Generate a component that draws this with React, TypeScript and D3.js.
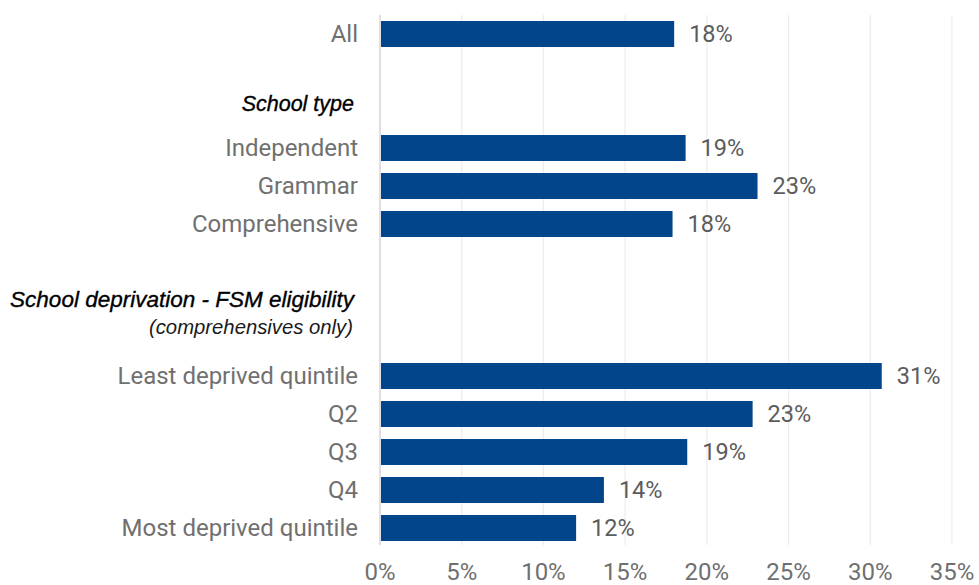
import React from "react";
import * as d3 from "d3";

const rowLabels = [
  "All",
  "",
  "School type",
  "Independent",
  "Grammar",
  "Comprehensive",
  "",
  "School deprivation - FSM eligibility",
  "",
  "Least deprived quintile",
  "Q2",
  "Q3",
  "Q4",
  "Most deprived quintile",
];
const rowKinds = ["bar", "gap", "header", "bar", "bar", "bar", "gap", "header", "gap", "bar", "bar", "bar", "bar", "bar"];
const rowValues: (number | null)[] = [18.0, null, null, 18.7, 23.1, 17.9, null, null, null, 30.7, 22.8, 18.8, 13.7, 12.0];
const headerNotes = ["", "", "", "", "", "", "", "(comprehensives only)", "", "", "", "", "", ""];
const xTicks = [0, 5, 10, 15, 20, 25, 30, 35];

const W = 979;
const H = 585;
const left = 380;
const right = 952;
const top = 15;
const bottom = 547;

export default function App() {
  const x = d3.scaleLinear().domain([0, 35]).range([left, right]);
  const y = d3
    .scaleBand<number>()
    .domain(d3.range(rowLabels.length))
    .range([top, bottom])
    .paddingInner(0.316)
    .paddingOuter(0.158);
  const bw = y.bandwidth();
  const step = y.step();

  return (
    <svg width={W} height={H} style={{ position: "absolute", left: 0, top: 0, background: "#fff" }}>
      {xTicks.map((t) => (
        <line
          key={"g" + t}
          x1={x(t)}
          x2={x(t)}
          y1={top}
          y2={bottom - 2}
          stroke={t === 0 ? "#d6d6d6" : "#ececec"}
          strokeWidth={t === 0 ? 1.5 : 1.2}
        />
      ))}
      {rowLabels.map((lab, i) => {
        const v = rowValues[i];
        if (rowKinds[i] !== "bar" || v == null) return null;
        const yc = (y(i) as number) + bw / 2;
        return (
          <g key={"b" + i}>
            <rect x={x(0) + 1} y={y(i)} width={x(v) - x(0) - 1} height={bw} fill="#03458a" />
            <text
              x={left - 22}
              y={yc}
              dy="0.35em"
              textAnchor="end"
              fontFamily="Roboto, 'Liberation Sans', sans-serif"
              fontSize={24}
              fill="#707070"
            >
              {lab}
            </text>
            <text
              x={x(v) + 15}
              y={yc}
              dy="0.35em"
              textAnchor="start"
              fontFamily="Roboto, 'Liberation Sans', sans-serif"
              fontSize={23.5}
              fill="#5c5c5c"
            >
              {d3.format(".0f")(v) + "%"}
            </text>
          </g>
        );
      })}
      {rowLabels.map((lab, i) => {
        if (rowKinds[i] !== "header") return null;
        const yc = (y(i) as number) + bw / 2;
        const note = headerNotes[i];
        return (
          <g key={"h" + i}>
            <text
              x={354}
              y={yc + (note ? 7 : 1)}
              textAnchor="end"
              fontFamily="'Liberation Sans', Arial, sans-serif"
              fontStyle="italic"
              fontSize={note ? 22.5 : 21.5}
              fill="#000"
              stroke="#000"
              strokeWidth={0.35}
            >
              {lab}
            </text>
            {note && (
              <text
                x={353}
                y={yc + 7 + step * 0.7}
                textAnchor="end"
                fontFamily="'Liberation Sans', Arial, sans-serif"
                fontStyle="italic"
                fontSize={20.3}
                fill="#1a1a1a"
              >
                {note}
              </text>
            )}
          </g>
        );
      })}
      {xTicks.map((t) => (
        <text
          key={"t" + t}
          x={x(t)}
          y={580}
          textAnchor="middle"
          fontFamily="Roboto, 'Liberation Sans', sans-serif"
          fontSize={24}
          fill="#707070"
        >
          {t + "%"}
        </text>
      ))}
    </svg>
  );
}
